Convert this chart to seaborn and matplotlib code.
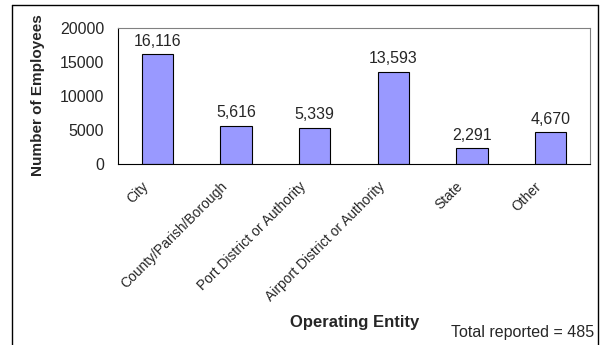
import matplotlib
matplotlib.use("Agg")
import matplotlib.pyplot as plt
from matplotlib.lines import Line2D
import seaborn as sns
import pandas as pd

categories = ["City", "County/Parish/Borough", "Port District or Authority",
              "Airport District or Authority", "State", "Other"]
employees = [16116, 5616, 5339, 13593, 2291, 4670]
y_ticks = [0, 5000, 10000, 15000, 20000]

sns.set_style("white")
plt.rcParams["font.family"] = ["Liberation Sans", "DejaVu Sans"]

df = pd.DataFrame({"entity": categories, "employees": employees})

fig = plt.figure(figsize=(6.03, 3.45), dpi=100)
ax = fig.add_axes([118 / 603, 1 - 164 / 345, (590 - 118) / 603, (164 - 28) / 345])

sns.barplot(data=df, x="entity", y="employees", color="#9999FF",
            saturation=1, width=0.4, edgecolor="black", linewidth=0.8, ax=ax)

for i, v in enumerate(employees):
    ax.text(i, v + 800, f"{v:,}", ha="center", va="bottom", fontsize=11.5)

ax.set_ylim(0, 20000)
ax.set_xlim(-0.5, len(categories) - 0.5)
ax.set_yticks(y_ticks)
ax.set_yticklabels([str(t) for t in y_ticks], fontsize=11.5)

# category boundaries carry the x tick marks
ax.set_xticks([i + 0.5 for i in range(-1, len(categories))])
ax.set_xticklabels([])
ax.tick_params(axis="x", direction="out", length=4, color="black", width=0.8)
ax.tick_params(axis="y", direction="out", length=4, color="black", width=0.8, pad=6)
for i, name in enumerate(categories):
    ax.annotate(name, xy=(i, 0), xycoords="data", xytext=(-11.5, -11),
                textcoords="offset points", rotation=45, ha="right", va="top",
                rotation_mode="anchor", fontsize=10)

for side in ["top", "right"]:
    ax.spines[side].set_color("#808080")
    ax.spines[side].set_linewidth(0.8)
for side in ["left", "bottom"]:
    ax.spines[side].set_color("black")
    ax.spines[side].set_linewidth(0.8)

ax.set_xlabel("")
ax.set_ylabel("")
fig.text(38 / 603, 1 - 95 / 345, "Number of Employees", rotation=90,
         ha="center", va="center", fontsize=11, fontweight="bold")

fig.text(355 / 603, 1 - 322 / 345, "Operating Entity", ha="center", va="center",
         fontsize=12, fontweight="bold")
fig.text(594 / 603, 1 - 333 / 345, "Total reported = 485", ha="right", va="center",
         fontsize=11.5)

# outer chart frame
x0, x1, yt = 12 / 603, 598 / 603, 1 - 5 / 345
for xs, ys in [([x0, x0], [0, yt]), ([x0, x1], [yt, yt]), ([x1, x1], [yt, 0])]:
    fig.add_artist(Line2D(xs, ys, color="black", linewidth=1.0, transform=fig.transFigure))

fig.savefig("out.png", dpi=100, facecolor="white")
